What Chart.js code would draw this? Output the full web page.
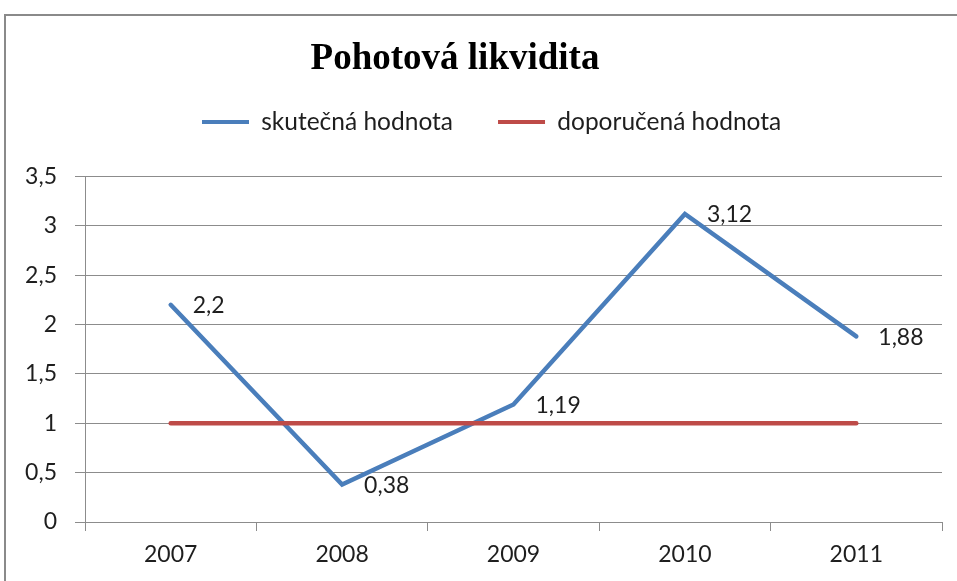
<!DOCTYPE html>
<html>
<head>
<meta charset="utf-8">
<script src="https://cdn.jsdelivr.net/npm/chart.js@4.4.0/dist/chart.umd.min.js"></script>
<style>
  html, body { margin: 0; padding: 0; background: #ffffff; overflow: hidden; }
  #wrap { position: absolute; left: 0; top: 0; width: 957px; height: 581px; }
  #frame { position: absolute; left: 4px; top: 14px; width: 1000px; height: 1000px;
           border: 2px solid #8a8a8a; pointer-events: none; box-sizing: border-box; }
</style>
</head>
<body>
<div id="frame"></div>
<div id="wrap"><canvas id="c" width="957" height="581"></canvas></div>
<script>
// ---- data ----
const chartTitle = 'Pohotová likvidita';
const categories = ['2007', '2008', '2009', '2010', '2011'];
const seriesNames = ['skutečná hodnota', 'doporučená hodnota'];
const actualValues = [2.2, 0.38, 1.19, 3.12, 1.88];
const recommendedValues = [1, 1, 1, 1, 1];
const yMin = 0;
const yMax = 3.5;
const yStep = 0.5;

// ---- helpers ----
const fmt = v => String(v).replace('.', ',');
const BLUE = '#4A7EBB';
const RED = '#BE4B48';
const GRID = '#8c8c8c';
const TEXT = '#1e1e1e';
const FONT = 'Lato, "Open Sans", sans-serif';
const TITLE_SIZE = 37;
const LEGEND_SIZE = 24.5;

const placeBlocks = {
  id: 'placeBlocks',
  afterLayout(chart) {
    const t = chart.titleBlock;
    if (t) {
      const w = t.right - t.left;
      const cx = 455;
      t.left = cx - w / 2; t.right = cx + w / 2;
      const h = t.bottom - t.top;
      const lh = TITLE_SIZE * 1.2;
      t.top = 59 - lh / 2; t.bottom = t.top + h;
    }
    const l = chart.legend;
    if (l) {
      const pad = l.options.labels.padding;
      const h = l.bottom - l.top;
      const w = l.right - l.left;
      l.left = 202 - pad; l.right = l.left + w;
      l.top = 122 - pad - LEGEND_SIZE / 2; l.bottom = l.top + h;
    }
  }
};

const dataLabels = {
  id: 'dataLabels',
  afterDatasetsDraw(chart) {
    const ctx = chart.ctx;
    const meta = chart.getDatasetMeta(0);
    ctx.save();
    ctx.font = '23px ' + FONT;
    ctx.fillStyle = TEXT;
    ctx.textAlign = 'left';
    ctx.textBaseline = 'middle';
    meta.data.forEach((pt, i) => {
      ctx.fillText(fmt(actualValues[i]), pt.x + 22, pt.y + 1);
    });
    ctx.restore();
  }
};

new Chart(document.getElementById('c'), {
  type: 'line',
  data: {
    labels: categories,
    datasets: [
      {
        label: seriesNames[0],
        data: actualValues,
        borderColor: BLUE,
        backgroundColor: BLUE,
        borderWidth: 4.5,
        pointRadius: 0,
        tension: 0,
        borderCapStyle: 'round',
        borderJoinStyle: 'miter',
        order: 1
      },
      {
        label: seriesNames[1],
        data: recommendedValues,
        borderColor: RED,
        backgroundColor: RED,
        borderWidth: 4.5,
        pointRadius: 0,
        tension: 0,
        borderCapStyle: 'round',
        order: 0
      }
    ]
  },
  options: {
    responsive: false,
    animation: false,
    events: [],
    layout: { padding: { top: 52.5, right: 15, bottom: 0, left: 0 } },
    plugins: {
      title: {
        display: true,
        text: chartTitle,
        color: '#000000',
        font: { family: '"Liberation Serif", "Times New Roman", serif', size: TITLE_SIZE, weight: 'bold' },
        padding: { top: 0, bottom: 0 }
      },
      legend: {
        display: true,
        position: 'top',
        align: 'start',
        labels: {
          color: TEXT,
          font: { family: FONT, size: LEGEND_SIZE },
          boxWidth: 47,
          boxHeight: 4,
          padding: 45,
          generateLabels(chart) {
            return chart.data.datasets.map((ds, i) => ({
              text: ds.label,
              fillStyle: ds.borderColor,
              strokeStyle: ds.borderColor,
              lineWidth: 0,
              hidden: false,
              datasetIndex: i,
              fontColor: TEXT
            }));
          }
        }
      },
      tooltip: { enabled: false }
    },
    scales: {
      x: {
        type: 'category',
        offset: true,
        grid: {
          offset: true,
          drawOnChartArea: false,
          drawTicks: true,
          tickLength: 9,
          color: GRID,
          lineWidth: 1
        },
        border: { display: true, color: GRID, width: 1 },
        ticks: { color: TEXT, font: { family: FONT, size: 23 }, padding: 10, maxRotation: 0 },
        afterFit(scale) { scale.height = 59; }
      },
      y: {
        min: yMin,
        max: yMax,
        grid: { color: GRID, lineWidth: 1, drawTicks: true, tickLength: 10 },
        border: { display: true, color: GRID, width: 1 },
        ticks: {
          stepSize: yStep,
          color: TEXT,
          font: { family: FONT, size: 23 },
          padding: 18,
          callback: v => fmt(v)
        },
        afterFit(scale) { scale.width = 85; }
      }
    }
  },
  plugins: [placeBlocks, dataLabels]
});
</script>
</body>
</html>
